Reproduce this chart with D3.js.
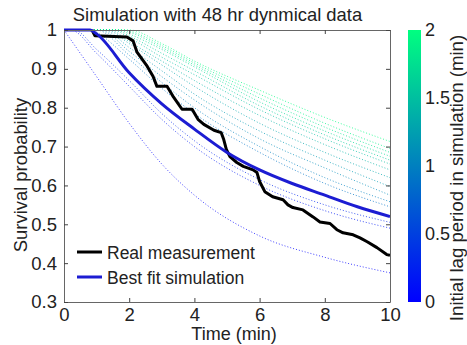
<!DOCTYPE html>
<html>
<head>
<meta charset="utf-8">
<script src="https://cdn.jsdelivr.net/npm/d3@7/dist/d3.min.js"></script>
<style>
  body { margin: 0; background: #fff; }
  text { font-family: "Liberation Sans", Arial, sans-serif; fill: #222; }
  .sim { fill: none; stroke-width: 1; stroke-dasharray: 1 2; stroke-opacity: 0.75; }
</style>
</head>
<body>
<div id="chart"></div>
<script>
// ticks
const timeTicks = [0, 2, 4, 6, 8, 10];
const probTicks = [0.3, 0.4, 0.5, 0.6, 0.7, 0.8, 0.9, 1];
const lagTicks = [0, 0.5, 1, 1.5, 2];

// simulated curves, one row per initial lag, sampled at simTimes
const simTimes = [1, 2, 3, 4, 6, 8, 10];
const simLags = [0, 0.2, 0.3, 0.9, 1.0, 1.1, 1.2, 1.3, 1.4, 1.5, 1.6, 1.7, 1.8, 1.9, 2.0];
const simValues = [
    [0.88, 0.76, 0.655, 0.575, 0.47, 0.415, 0.375],
    [0.94, 0.855, 0.77, 0.70, 0.60, 0.535, 0.49],
    [0.95, 0.87, 0.785, 0.715, 0.615, 0.55, 0.505],
    [0.995, 0.925, 0.85, 0.785, 0.685, 0.605, 0.545],
    [1, 0.935, 0.865, 0.80, 0.70, 0.62, 0.558],
    [1, 0.945, 0.88, 0.82, 0.72, 0.645, 0.575],
    [1, 0.955, 0.895, 0.835, 0.74, 0.665, 0.597],
    [1, 0.965, 0.91, 0.855, 0.76, 0.685, 0.62],
    [1, 0.97, 0.92, 0.87, 0.78, 0.705, 0.64],
    [1, 0.98, 0.93, 0.885, 0.795, 0.72, 0.655],
    [1, 0.985, 0.94, 0.895, 0.805, 0.73, 0.665],
    [1, 0.99, 0.95, 0.905, 0.815, 0.74, 0.675],
    [1, 0.995, 0.955, 0.91, 0.825, 0.75, 0.685],
    [1, 0.998, 0.96, 0.915, 0.835, 0.76, 0.695],
    [1, 1, 0.965, 0.92, 0.845, 0.775, 0.713]
];

// best fit simulation
const fitLag = 0.8;
const fitTimes = [1, 2, 3, 4, 5, 6, 7, 8, 9, 10];
const fitValues = [0.99, 0.89, 0.81, 0.745, 0.685, 0.64, 0.605, 0.575, 0.545, 0.52];

// real measurement
const measTimes = [0.86, 0.95, 1.93, 2.12, 2.24, 2.55, 2.73, 2.85, 3.16, 3.34, 3.62, 3.93, 4.11, 4.29, 4.6,
    4.82, 4.9, 4.98, 5.09, 5.3, 5.5, 5.8, 5.92, 6.0, 6.16, 6.4, 6.72, 6.87, 7.02, 7.33, 7.64, 7.85,
    8.16, 8.37, 8.56, 8.87, 9.08, 9.3, 9.6, 9.9, 10];
const measValues = [1, 0.985, 0.982, 0.972, 0.943, 0.907, 0.881, 0.855, 0.855, 0.83, 0.796, 0.796, 0.77, 0.757, 0.742,
    0.736, 0.718, 0.693, 0.674, 0.659, 0.649, 0.64, 0.633, 0.61, 0.584, 0.571, 0.563, 0.55, 0.543, 0.537, 0.519, 0.506,
    0.502, 0.486, 0.478, 0.473, 0.465, 0.455, 0.44, 0.422, 0.42];

const legendLabels = ['Real measurement', 'Best fit simulation'];

const width = 467, height = 345;
const svg = d3.select("#chart").append("svg")
    .attr("width", width)
    .attr("height", height);

const x = d3.scaleLinear().domain([0, 10]).range([64, 390]);
const y = d3.scaleLinear().domain([0.3, 1]).range([302, 30]);
const lagColor = d3.scaleLinear().domain([0, 2]).range(["#0000ff", "#00ff80"]);

svg.append("defs").append("clipPath").attr("id", "plot-clip")
    .append("rect")
    .attr("x", x(0)).attr("y", y(1) - 2)
    .attr("width", x(10) - x(0)).attr("height", y(0.3) - y(1) + 2);

const line = d3.line()
    .x(d => x(d[0]))
    .y(d => y(d[1]));

const plot = svg.append("g").attr("clip-path", "url(#plot-clip)");

// dotted simulation family
const simCurves = simLags.map((lag, i) => {
    const pts = [[0, 1]];
    if (lag > 0) pts.push([lag, 1]);
    simTimes.forEach((t, j) => { if (t > lag) pts.push([t, simValues[i][j]]); });
    return { lag, pts };
});

plot.append("g")
    .selectAll("path")
    .data(simCurves)
    .enter().append("path")
    .attr("class", "sim")
    .attr("stroke", d => lagColor(d.lag))
    .attr("d", d => line.curve(d3.curveMonotoneX)(d.pts));

// measurement
const measPts = measTimes.map((t, i) => [t, measValues[i]]);
plot.append("path")
    .attr("fill", "none")
    .attr("stroke", "#000")
    .attr("stroke-width", 3)
    .attr("stroke-linejoin", "round")
    .attr("d", line.curve(d3.curveLinear)(measPts));

// best fit
const fitPts = [[0, 1], [fitLag, 1]].concat(fitTimes.map((t, i) => [t, fitValues[i]]));
plot.append("path")
    .attr("fill", "none")
    .attr("stroke", "#1c1cd2")
    .attr("stroke-width", 3)
    .attr("d", line.curve(d3.curveMonotoneX)(fitPts));

// axes box with inward ticks
const axisStyle = g => {
    g.select(".domain").attr("stroke", "#666");
    g.selectAll(".tick line").attr("stroke", "#444");
    g.selectAll(".tick text").style("font-size", "18.5px").attr("fill", "#222");
};

svg.append("g")
    .attr("transform", `translate(0,${y(0.3)})`)
    .call(d3.axisBottom(x).tickValues(timeTicks).tickSize(-4).tickSizeOuter(0).tickPadding(6).tickFormat(d => d))
    .call(axisStyle);

svg.append("g")
    .attr("transform", `translate(0,${y(1)})`)
    .call(d3.axisTop(x).tickValues(timeTicks).tickSize(-4).tickSizeOuter(0).tickFormat(""))
    .call(axisStyle);

svg.append("g")
    .attr("transform", `translate(${x(0)},0)`)
    .call(d3.axisLeft(y).tickValues(probTicks).tickSize(-4).tickSizeOuter(0).tickPadding(7).tickFormat(d => d))
    .call(axisStyle);

svg.append("g")
    .attr("transform", `translate(${x(10)},0)`)
    .call(d3.axisRight(y).tickValues(probTicks).tickSize(-4).tickSizeOuter(0).tickFormat(""))
    .call(axisStyle);

// title and axis labels
svg.append("text")
    .attr("x", 217.5).attr("y", 21)
    .attr("text-anchor", "middle")
    .style("font-size", "18.4px")
    .text("Simulation with 48 hr dynmical data");

svg.append("text")
    .attr("x", 234).attr("y", 340)
    .attr("text-anchor", "middle")
    .style("font-size", "18px")
    .text("Time (min)");

svg.append("text")
    .attr("transform", "translate(27,175) rotate(-90)")
    .attr("text-anchor", "middle")
    .style("font-size", "18.4px")
    .text("Survival probability");

// legend
const legend = svg.append("g")
    .selectAll("g")
    .data(legendLabels)
    .enter().append("g")
    .attr("transform", (d, i) => `translate(0,${252 + i * 25})`);

legend.append("line")
    .attr("x1", 77).attr("x2", 102)
    .attr("stroke", (d, i) => i === 0 ? "#000" : "#1c1cd2")
    .attr("stroke-width", 3);

legend.append("text")
    .attr("x", 107).attr("y", 6.5)
    .style("font-size", "17.5px")
    .text(d => d);

// colorbar
const cbY = d3.scaleLinear().domain([0, 2]).range([302, 30]);
const grad = svg.select("defs").append("linearGradient")
    .attr("id", "winter")
    .attr("x1", 0).attr("y1", 1).attr("x2", 0).attr("y2", 0);
grad.append("stop").attr("offset", 0).attr("stop-color", lagColor(0));
grad.append("stop").attr("offset", 1).attr("stop-color", lagColor(2));

svg.append("rect")
    .attr("x", 408).attr("y", cbY(2))
    .attr("width", 13).attr("height", cbY(0) - cbY(2))
    .attr("fill", "url(#winter)");

const cbAxis = svg.append("g")
    .attr("transform", "translate(421,0)")
    .call(d3.axisRight(cbY).tickValues(lagTicks).tickSize(0).tickPadding(4).tickFormat(d => d));
cbAxis.select(".domain").remove();
cbAxis.selectAll(".tick text").style("font-size", "18px").attr("fill", "#222");

svg.append("text")
    .attr("transform", "translate(463,178) rotate(-90)")
    .attr("text-anchor", "middle")
    .style("font-size", "18.6px")
    .text("Initial lag period in simulation (min)");
</script>
</body>
</html>
